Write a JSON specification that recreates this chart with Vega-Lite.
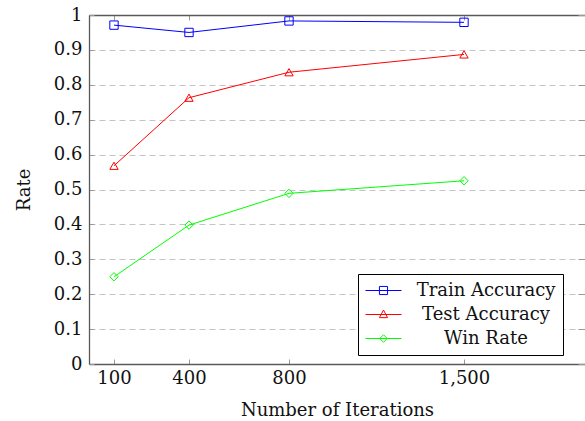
{
  "$schema": "https://vega.github.io/schema/vega-lite/v6.json",
  "autosize": "none",
  "padding": {"left": 89, "top": 15, "right": 0, "bottom": 57},
  "width": 496,
  "height": 349,
  "background": "white",
  "data": {
    "values": [
      {"iter": 100, "series": "Train Accuracy", "rate": 0.971},
      {"iter": 400, "series": "Train Accuracy", "rate": 0.950},
      {"iter": 800, "series": "Train Accuracy", "rate": 0.983},
      {"iter": 1500, "series": "Train Accuracy", "rate": 0.979},
      {"iter": 100, "series": "Test Accuracy", "rate": 0.568},
      {"iter": 400, "series": "Test Accuracy", "rate": 0.763},
      {"iter": 800, "series": "Test Accuracy", "rate": 0.836},
      {"iter": 1500, "series": "Test Accuracy", "rate": 0.887},
      {"iter": 100, "series": "Win Rate", "rate": 0.250},
      {"iter": 400, "series": "Win Rate", "rate": 0.398},
      {"iter": 800, "series": "Win Rate", "rate": 0.489},
      {"iter": 1500, "series": "Win Rate", "rate": 0.525}
    ]
  },
  "config": {
    "view": {"stroke": null},
    "axis": {
      "labelFont": "DejaVu Serif",
      "labelFontSize": 18,
      "labelColor": "#111",
      "titleFont": "DejaVu Serif",
      "titleFontSize": 18,
      "titleFontWeight": "normal",
      "titleColor": "#111",
      "domainColor": "#5a5a5a",
      "domainWidth": 1.3,
      "tickColor": "#9a9a9a",
      "tickWidth": 1
    }
  },
  "layer": [
    {
      "mark": {"type": "line", "strokeWidth": 1},
      "encoding": {
        "x": {
          "field": "iter", "type": "quantitative",
          "scale": {"domain": [0, 1984], "nice": false, "zero": false},
          "axis": {
            "orient": "bottom",
            "values": [100, 400, 800, 1500],
            "labelExpr": "format(datum.value, ',')",
            "tickSize": -5,
            "labelPadding": 10,
            "grid": false,
            "title": "Number of Iterations",
            "titleY": 51,
            "titleBaseline": "alphabetic"
          }
        },
        "y": {
          "field": "rate", "type": "quantitative",
          "scale": {"domain": [0, 1], "nice": false},
          "axis": {
            "orient": "left",
            "values": [0, 0.1, 0.2, 0.3, 0.4, 0.5, 0.6, 0.7, 0.8, 0.9, 1],
            "labelExpr": "format(datum.value, '.1~f')",
            "tickSize": -5,
            "labelPadding": 12,
            "grid": true,
            "gridColor": "#c4c4c4",
            "gridDash": [6, 4],
            "gridWidth": 1,
            "title": "Rate",
            "titleAngle": -90,
            "titleX": -60,
            "titleY": 174.5,
            "titleAlign": "center",
            "titleBaseline": "alphabetic"
          }
        },
        "color": {
          "field": "series", "type": "nominal",
          "scale": {
            "domain": ["Train Accuracy", "Test Accuracy", "Win Rate"],
            "range": ["#0000ff", "#ff0000", "#00ff00"]
          },
          "legend": {
            "title": null,
            "orient": "none",
            "legendX": 269,
            "legendY": 259,
            "padding": 7,
            "strokeColor": "black",
            "fillColor": "white",
            "cornerRadius": 0,
            "symbolSize": 324,
            "symbolStrokeWidth": 1,
            "labelFont": "DejaVu Serif",
            "labelFontSize": 18,
            "labelColor": "#111",
            "labelAlign": "center",
            "labelOffset": 102,
            "rowPadding": 5,
            "encode": {
              "symbols": {
                "update": {
                  "shape": {"signal": "datum.value === 'Train Accuracy' ? 'M-1,0H3M0.55,-0.45H1.45V0.45H0.55Z' : datum.value === 'Test Accuracy' ? 'M-1,0H3M1,-0.5L1.45,0.35H0.55Z' : 'M-1,0H3M1,-0.42L1.42,0L1,0.42L0.58,0Z'"},
                  "fill": {"value": "transparent"},
                  "stroke": {"signal": "datum.value === 'Train Accuracy' ? '#0000ff' : datum.value === 'Test Accuracy' ? '#ff0000' : '#00ff00'"},
                  "strokeWidth": {"value": 1}
                }
              }
            }
          }
        },
        "detail": {"field": "series"}
      }
    },
    {
      "mark": {"type": "point", "filled": false, "strokeWidth": 1, "size": 70, "opacity": 1},
      "encoding": {
        "x": {
          "field": "iter", "type": "quantitative",
          "axis": {
            "orient": "top",
            "values": [100, 400, 800, 1500],
            "labels": false,
            "tickSize": -5,
            "grid": false,
            "title": null
          }
        },
        "y": {
          "field": "rate", "type": "quantitative",
          "axis": {
            "orient": "right",
            "values": [0, 0.1, 0.2, 0.3, 0.4, 0.5, 0.6, 0.7, 0.8, 0.9, 1],
            "labels": false,
            "domain": false,
            "tickSize": -7,
            "grid": false,
            "title": null
          }
        },
        "color": {"field": "series", "type": "nominal"},
        "shape": {
          "condition": [
            {"test": "datum.series === 'Train Accuracy'", "value": "square"},
            {"test": "datum.series === 'Test Accuracy'", "value": "triangle-up"}
          ],
          "value": "diamond"
        }
      }
    }
  ],
  "resolve": {"axis": {"x": "independent", "y": "independent"}}
}
